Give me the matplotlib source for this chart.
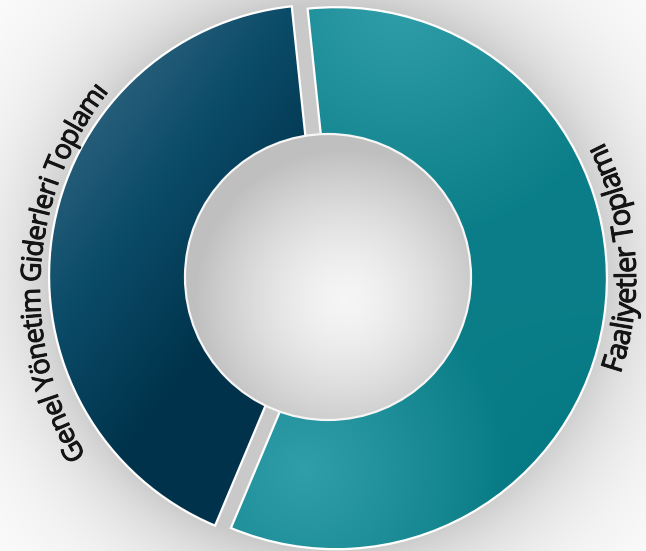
import numpy as np
import matplotlib.pyplot as plt
import matplotlib.patheffects as pe
from matplotlib.font_manager import FontProperties
from matplotlib.textpath import text_to_path
from matplotlib.patches import Circle
from matplotlib.colors import to_rgb

labels = ["Faaliyetler Toplamı", "Genel Yönetim Giderleri Toplamı"]
shares = [58, 42]
base_colors = ["#0a818c", "#0d4560"]

W, H = 646, 551
cx, cy = 328, 274          # donut centre in data units (1 unit = 1 px)
R = 271
R_HOLE = 143
GAP = 8                    # explode distance, px

fig = plt.figure(figsize=(6.46, 5.51), dpi=100)
ax = fig.add_axes([0, 0, 1, 1])

# pixel grid for the shaded fills (row 0 = top of picture)
yy, xx = np.mgrid[0:H, 0:W] + 0.5
py_c = H - cy


def mix(c0, c1, t):
    c0 = np.array(to_rgb(c0))
    c1 = np.array(to_rgb(c1))
    return c0 + (c1 - c0) * t[..., None]


# soft grey shadow behind the ring
r = np.hypot(xx - cx, yy - py_c)
shade = np.where(r < R, 0.79, 1 - 0.21 * np.exp(-(r - R) / 65))
ax.imshow(np.dstack([shade] * 3), extent=(0, W, 0, H), origin="upper",
          zorder=0, interpolation="bilinear")

wedges, _ = ax.pie(
    shares,
    colors=base_colors,
    startangle=96,
    counterclock=False,
    explode=[GAP, GAP],
    radius=R,
    center=(cx, cy),
    wedgeprops=dict(edgecolor="white", linewidth=1.6),
)

# gradient fills clipped to each wedge
d1 = np.hypot(xx - 305, yy - 470)
d2 = np.hypot(xx - 400, yy - 0)
t_teal = np.clip(0.18 + 0.65 * np.clip(1 - d1 / 200, 0, 1)
                 + 0.65 * np.clip(1 - d2 / 240, 0, 1), 0, 1)
t_teal = t_teal - 0.15 * np.clip((xx - 430) / 180, 0, 1) * np.clip((yy - 300) / 200, 0, 1)
teal_img = mix("#00757f", "#3ba7b1", np.clip(t_teal, 0, 1))

t_navy = np.clip(1 - ((xx - 60) * 0.8 + (yy - 40) * 0.6) / 300, 0, 1)
navy_img = np.where(
    (t_navy < 0.45)[..., None],
    mix("#00334b", "#0b4c69", t_navy / 0.45),
    mix("#0b4c69", "#3f6d87", (t_navy - 0.45) / 0.55),
)

for wedge, img in zip(wedges, [teal_img, navy_img]):
    im = ax.imshow(img, extent=(0, W, 0, H), origin="upper", zorder=2,
                   interpolation="bilinear")
    im.set_clip_path(wedge)
    wedge.set_facecolor("none")
    wedge.set_zorder(3)

# centre hole
hole = Circle((cx, cy), R_HOLE, facecolor="none", edgecolor="#f6f6f6",
              linewidth=1.6, zorder=5)
ax.add_patch(hole)
dh = np.clip(np.hypot(xx - 345, yy - 300) / 150, 0, 1)
g = 0.962 - 0.21 * dh ** 1.5
him = ax.imshow(np.dstack([g] * 3), extent=(0, W, 0, H), origin="upper",
                zorder=4, interpolation="bilinear")
him.set_clip_path(hole)


def arc_label(text, center, radius, start, end, clockwise, tops_out, grow=1.07):
    px = 100 / 72

    def advance(s, prop):
        if not s:
            return 0.0
        wl = text_to_path.get_text_width_height_descent("l", prop, ismath=False)[0]
        w = text_to_path.get_text_width_height_descent(s + "l", prop, ismath=False)[0]
        return (w - wl) * px

    ref = FontProperties(family="Open Sans", size=20)
    arc_len = np.radians(abs(end - start)) * radius
    size = 20 * arc_len / advance(text, ref)
    place = FontProperties(family="Open Sans", size=size)
    prop = FontProperties(family="Open Sans", size=size * grow)
    outline = [pe.Stroke(linewidth=0.7, foreground="#141414"), pe.Normal()]

    sign = -1 if clockwise else 1
    for i, ch in enumerate(text):
        if ch == " ":
            continue
        s = advance(text[:i], place) + advance(ch, place) / 2
        theta = np.radians(start) + sign * s / radius
        x = center[0] + radius * np.cos(theta)
        y = center[1] + radius * np.sin(theta)
        rot = np.degrees(theta) + (-90 if tops_out else 90)
        ax.text(x, y, ch, fontproperties=prop, rotation=rot,
                rotation_mode="anchor", ha="center", va="baseline",
                color="#141414", zorder=6, path_effects=outline)


arc_label(labels[0], (336, H - 278), 300, -18.6, 27.0,
          clockwise=False, tops_out=False)
arc_label(labels[1], (361, H - 290), 321, 211.0, 141.8,
          clockwise=True, tops_out=True)

ax.set_xlim(0, W)
ax.set_ylim(0, H)
ax.set_aspect("equal")
ax.axis("off")

fig.savefig("out.png", dpi=100)
